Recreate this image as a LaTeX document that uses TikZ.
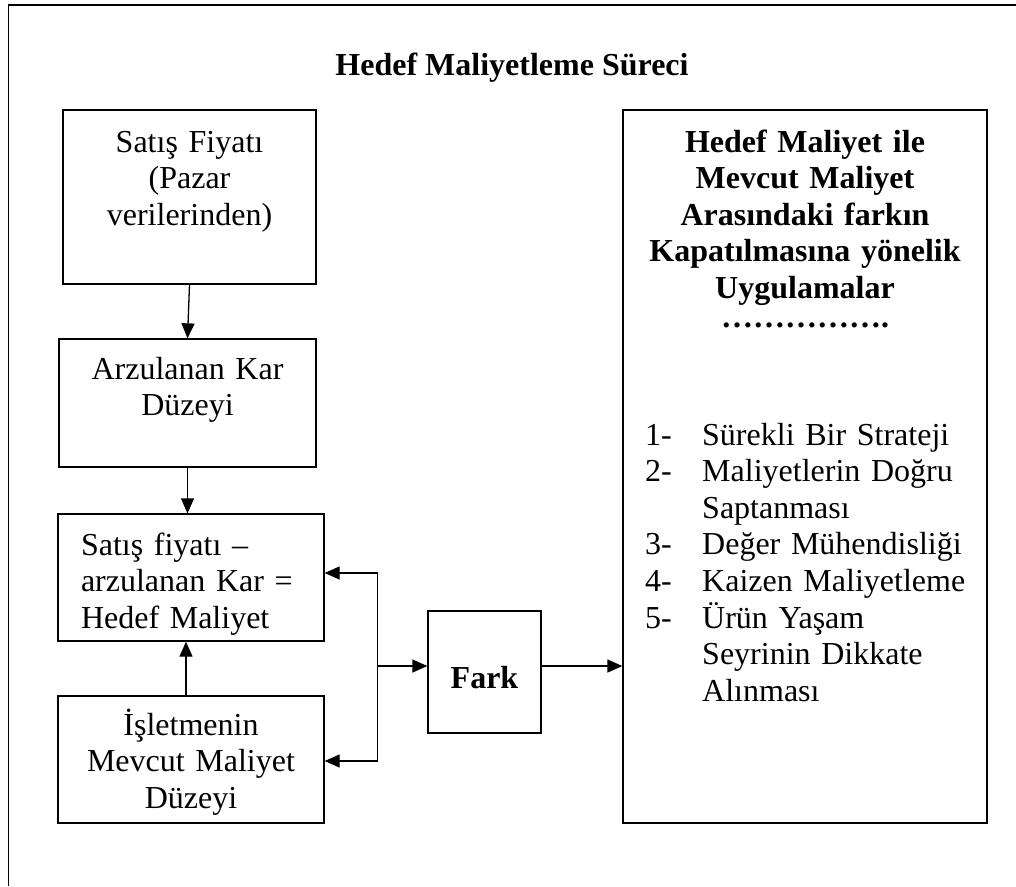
\documentclass[tikz,border=0pt]{standalone}
\usepackage{fontspec}
\setmainfont{Liberation Serif}
\usetikzlibrary{arrows.meta,positioning,calc}
\newcommand{\yazi}{\fontsize{32}{36.6}\selectfont}
\newcommand{\madde}[1]{\makebox[57pt][l]{#1}}
\newcommand{\girinti}{\hspace*{57pt}}
\tikzset{
  kutu/.style={draw, line width=1.3pt, inner sep=0pt, align=center, font=\yazi},
  baslik/.style={inner sep=0pt, font=\yazi\bfseries},
  liste/.style={inner sep=0pt, align=left, text width=330pt, font=\yazi},
  ok/.style={-{Triangle[length=15pt, width=13pt]}, line width=1.3pt},
  okcift/.style={{Triangle[length=15pt, width=13pt]}-{Triangle[length=15pt, width=13pt]}, line width=1.3pt},
  cerceve/.style={line width=1.8pt},
}
\begin{document}
\begin{tikzpicture}[x=1pt, y=-1pt]
  \useasboundingbox (0,0) rectangle (1016,886);
  \draw[cerceve] (8.5,886) -- (8.5,5) -- (1016,5);

  \node[baslik, anchor=base] (baslik) at (512,75) {Hedef Maliyetleme Süreci};

  \node[kutu, text width=253pt, text height=42pt, text depth=132pt] (satis) at (189.5,197)
    {Satış Fiyatı\\(Pazar\\verilerinden)};
  \node[kutu, text width=257pt, text height=40pt, text depth=88pt] (kar) at (187.5,403)
    {Arzulanan Kar\\Düzeyi};
  \node[kutu, align=left, text width=220pt, minimum width=266pt, text height=41pt, text depth=86pt] (hedef) at (191,577.5)
    {Satış fiyatı –\\arzulanan Kar =\\Hedef Maliyet};
  \node[kutu, text width=266pt, text height=39pt, text depth=88pt] (mevcut) at (191,759.5)
    {İşletmenin\\Mevcut Maliyet\\Düzeyi};
  \node[kutu, font=\yazi\bfseries, text width=113pt, text height=77pt, text depth=45pt] (fark) at (484.5,672)
    {Fark};
  \node[kutu, font=\yazi\bfseries, text width=364pt, text height=42pt, text depth=671pt] (uyg) at (805,466.5)
    {Hedef Maliyet ile\\Mevcut Maliyet\\Arasındaki farkın\\Kapatılmasına yönelik\\Uygulamalar\\[-8pt]…………….};
  \node[liste, anchor=base west] (liste) at (645,445)
    {\madde{1-}Sürekli Bir Strateji\\
     \madde{2-}Maliyetlerin Doğru\\
     \girinti Saptanması\\
     \madde{3-}Değer Mühendisliği\\
     \madde{4-}Kaizen Maliyetleme\\
     \madde{5-}Ürün Yaşam\\
     \girinti Seyrinin Dikkate\\
     \girinti Alınması};

  \coordinate (ust) at (377.5,573);
  \coordinate (orta) at (377.5,666);
  \coordinate (alt) at (377.5,761);

  \draw[ok] (satis.south) -- (kar.north);
  \draw[ok] (kar.south) -- (kar.south |- hedef.north);
  \draw[ok] ([xshift=-5pt]mevcut.north) -- ([xshift=-5pt]hedef.south);
  \draw[okcift] (ust -| hedef.east) -- (ust) -- (alt) -- (alt -| mevcut.east);
  \draw[ok] (orta) -- (orta -| fark.west);
  \draw[ok] (orta -| fark.east) -- (orta -| uyg.west);
\end{tikzpicture}
\end{document}
